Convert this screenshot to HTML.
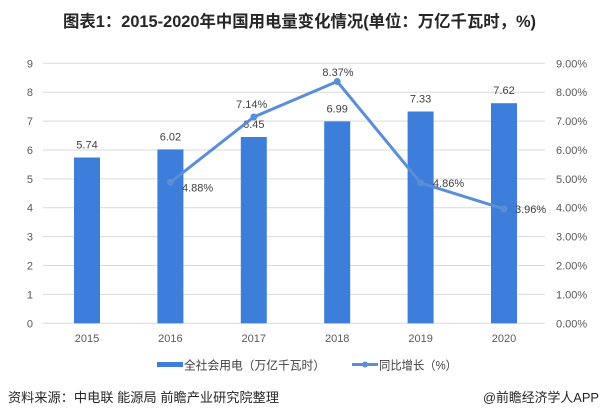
<!DOCTYPE html>
<html>
<head>
<meta charset="utf-8">
<style>
html,body{margin:0;padding:0;background:#fff;}
svg{display:block;}
text{font-family:"Liberation Sans","Noto Sans CJK SC",sans-serif;}
</style>
</head>
<body>
<svg width="602" height="418" viewBox="0 0 602 418" xmlns="http://www.w3.org/2000/svg">
<rect width="602" height="418" fill="#fff"/>
<!-- Title -->
<text x="63" y="27" font-size="16.5" font-weight="bold" fill="#262626" textLength="473" lengthAdjust="spacingAndGlyphs">图表1：2015-2020年中国用电量变化情况(单位：万亿千瓦时，%)</text>

<!-- gridlines -->
<g stroke="#d9d9d9" stroke-width="1">
<line x1="43" y1="323.3" x2="545" y2="323.3"/>
<line x1="43" y1="294.4" x2="545" y2="294.4"/>
<line x1="43" y1="265.5" x2="545" y2="265.5"/>
<line x1="43" y1="236.6" x2="545" y2="236.6"/>
<line x1="43" y1="207.7" x2="545" y2="207.7"/>
<line x1="43" y1="178.9" x2="545" y2="178.9"/>
<line x1="43" y1="150.0" x2="545" y2="150.0"/>
<line x1="43" y1="121.1" x2="545" y2="121.1"/>
<line x1="43" y1="92.2" x2="545" y2="92.2"/>
<line x1="43" y1="63.3" x2="545" y2="63.3"/>
</g>

<!-- left axis labels -->
<g font-size="11" fill="#595959" text-anchor="end">
<text x="33" y="327.3">0</text>
<text x="33" y="298.4">1</text>
<text x="33" y="269.5">2</text>
<text x="33" y="240.6">3</text>
<text x="33" y="211.7">4</text>
<text x="33" y="182.9">5</text>
<text x="33" y="154.0">6</text>
<text x="33" y="125.1">7</text>
<text x="33" y="96.2">8</text>
<text x="33" y="67.3">9</text>
</g>

<!-- right axis labels -->
<g font-size="11" fill="#595959">
<text x="556" y="327.3">0.00%</text>
<text x="556" y="298.4">1.00%</text>
<text x="556" y="269.5">2.00%</text>
<text x="556" y="240.6">3.00%</text>
<text x="556" y="211.7">4.00%</text>
<text x="556" y="182.9">5.00%</text>
<text x="556" y="154.0">6.00%</text>
<text x="556" y="125.1">7.00%</text>
<text x="556" y="96.2">8.00%</text>
<text x="556" y="67.3">9.00%</text>
</g>

<!-- bars -->
<g fill="#3d7edb">
<rect x="74" y="157.5" width="26" height="165.8"/>
<rect x="157.4" y="149.4" width="26" height="173.9"/>
<rect x="240.8" y="137.0" width="26" height="186.3"/>
<rect x="324.2" y="121.4" width="26" height="201.9"/>
<rect x="407.6" y="111.5" width="26" height="211.8"/>
<rect x="491" y="103.2" width="26" height="220.1"/>
</g>

<!-- bar labels -->
<g font-size="11" fill="#404040" text-anchor="middle">
<text x="87" y="148.5">5.74</text>
<text x="170.4" y="140.4">6.02</text>
<text x="253.8" y="128">6.45</text>
<text x="337.2" y="112.4">6.99</text>
<text x="420.6" y="102.5">7.33</text>
<text x="504" y="94.2">7.62</text>
</g>

<!-- x labels -->
<g font-size="11" fill="#595959" text-anchor="middle">
<text x="87" y="342">2015</text>
<text x="170.4" y="342">2016</text>
<text x="253.8" y="342">2017</text>
<text x="337.2" y="342">2018</text>
<text x="420.6" y="342">2019</text>
<text x="504" y="342">2020</text>
</g>

<!-- line -->
<polyline points="170.4,182.3 253.8,117.0 337.2,81.5 420.6,182.9 504,208.9" fill="none" stroke="#5a8ed6" stroke-width="3" stroke-linejoin="round"/>
<g fill="#5a8ed6">
<circle cx="170.4" cy="182.3" r="3.5"/>
<circle cx="253.8" cy="117.0" r="3.5"/>
<circle cx="337.2" cy="81.5" r="3.5"/>
<circle cx="420.6" cy="182.9" r="3.5"/>
<circle cx="504" cy="208.9" r="3.5"/>
</g>

<!-- line labels -->
<g font-size="11" fill="#404040">
<text x="182" y="191.5">4.88%</text>
<text x="251.7" y="108" text-anchor="middle">7.14%</text>
<text x="338" y="76" text-anchor="middle">8.37%</text>
<text x="433" y="187">4.86%</text>
<text x="515" y="213">3.96%</text>
</g>

<!-- legend -->
<rect x="157" y="362" width="26" height="5" fill="#3d7edb"/>
<text x="184" y="369.5" font-size="12" fill="#404040" textLength="141" lengthAdjust="spacingAndGlyphs">全社会用电（万亿千瓦时）</text>
<line x1="352" y1="364.5" x2="378" y2="364.5" stroke="#5a8ed6" stroke-width="3"/>
<circle cx="365" cy="364.5" r="3" fill="#5a8ed6"/>
<text x="379" y="369.5" font-size="12" fill="#404040" textLength="78" lengthAdjust="spacingAndGlyphs">同比增长（%）</text>

<!-- source -->
<text x="8" y="402" font-size="13" fill="#262626" textLength="271" lengthAdjust="spacingAndGlyphs">资料来源：中电联 能源局 前瞻产业研究院整理</text>
<text x="599" y="402" font-size="13" fill="#262626" text-anchor="end" textLength="116" lengthAdjust="spacingAndGlyphs">@前瞻经济学人APP</text>
</svg>
</body>
</html>
